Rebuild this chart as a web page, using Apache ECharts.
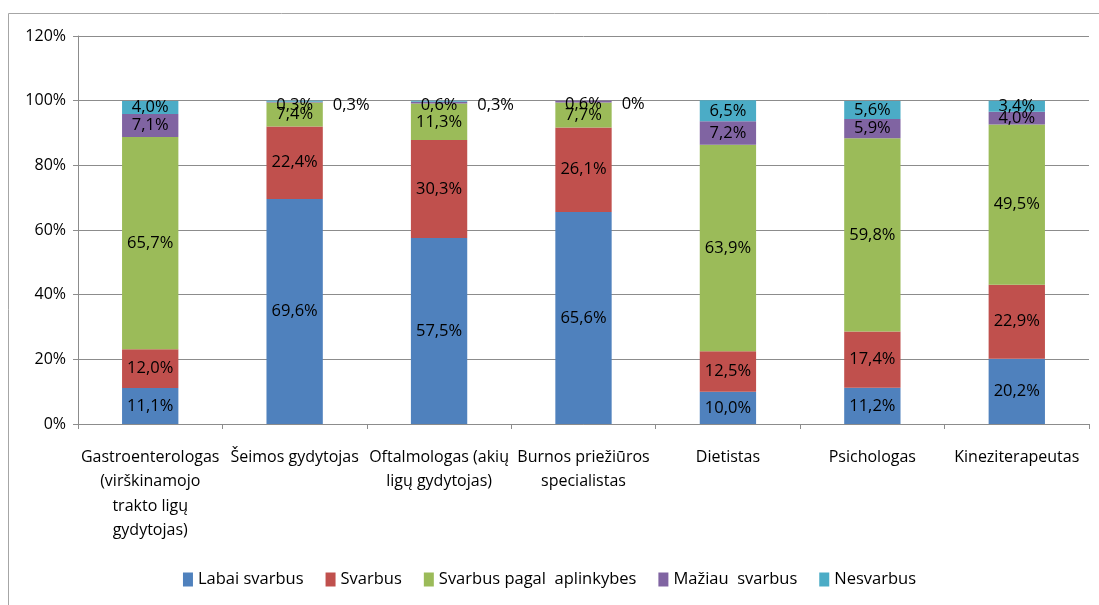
<!DOCTYPE html>
<html><head><meta charset="utf-8">
<script src="https://cdn.jsdelivr.net/npm/echarts@6/dist/echarts.min.js"></script>
<style>html,body{margin:0;padding:0;background:#fff}#c{width:1099px;height:605px}</style>
</head><body><div id="c"></div>
<script>
var categories = ["Gastroenterologas\n(virškinamojo\ntrakto ligų\ngydytojas)", "Šeimos gydytojas", "Oftalmologas (akių\nligų gydytojas)", "Burnos priežiūros\nspecialistas", "Dietistas", "Psichologas", "Kineziterapeutas"];
var seriesNames = ["Labai svarbus", "Svarbus", "Svarbus pagal  aplinkybes", "Mažiau  svarbus", "Nesvarbus"];
var labaiSvarbus = [11.1, 69.6, 57.5, 65.6, 10.0, 11.2, 20.2];
var svarbus = [12.0, 22.4, 30.3, 26.1, 12.5, 17.4, 22.9];
var pagalAplinkybes = [65.7, 7.4, 11.3, 7.7, 63.9, 59.8, 49.5];
var maziauSvarbus = [7.1, 0.3, 0.6, 0.6, 7.2, 5.9, 4.0];
var nesvarbus = [4.0, 0.3, 0.3, 0, 6.5, 5.6, 3.4];
var yTicks = [0, 20, 40, 60, 80, 100, 120];
var colors = ["#4F81BD", "#C0504D", "#9BBB59", "#8064A2", "#4BACC6"];
var outsideIdx = [1, 2, 3];

var FONT = "'Open Sans', sans-serif";
function fmt(v){ return v === 0 ? "0%" : v.toFixed(1).replace('.', ',') + "%"; }

var all = [labaiSvarbus, svarbus, pagalAplinkybes, maziauSvarbus, nesvarbus];
var series = all.map(function(arr, si){
  return {
    name: seriesNames[si], type: 'bar', stack: 'total', barWidth: '39%',
    itemStyle: {color: colors[si]},
    label: {show: true, position: 'inside', color: '#000', fontFamily: FONT, fontSize: 16.5,
      formatter: function(p){ return fmt(p.value); }},
    data: arr.map(function(v, i){
      if (si === 4 && outsideIdx.indexOf(i) >= 0) {
        return {value: v, label: {position: 'right', distance: 10, offset: [0, 4]}};
      }
      if (si === 3 && outsideIdx.indexOf(i) >= 0) {
        return {value: v, label: {offset: [0, 3]}};
      }
      return v;
    })
  };
});

var chart = echarts.init(document.getElementById('c'));
chart.setOption({
  animation: false,
  graphic: [{type: 'rect', shape: {x: 8.5, y: 13.5, width: 1200, height: 700}, style: {fill: 'none', stroke: '#a6a6a6', lineWidth: 1}, silent: true}],
  grid: {left: 78, right: 10, top: 36, bottom: 181, containLabel: false},
  legend: {bottom: 12, left: 'center', itemWidth: 10, itemHeight: 14, itemGap: 22, icon: 'rect',
    textStyle: {fontFamily: FONT, fontSize: 16.5, color: '#000'}, data: seriesNames},
  xAxis: {type: 'category', data: categories,
    axisLine: {lineStyle: {color: '#8c8c8c'}},
    axisTick: {show: true, length: 5, lineStyle: {color: '#8c8c8c'}},
    axisLabel: {interval: 0, color: '#000', fontFamily: FONT, fontSize: 16, lineHeight: 24.5, margin: 21}},
  yAxis: {type: 'value', min: 0, max: 120, interval: 20,
    axisLine: {show: true, lineStyle: {color: '#8c8c8c'}},
    axisTick: {show: true, length: 5, lineStyle: {color: '#8c8c8c'}},
    splitLine: {lineStyle: {color: '#8c8c8c'}},
    axisLabel: {color: '#000', fontFamily: FONT, fontSize: 16, margin: 12,
      formatter: function(v){ return yTicks.indexOf(v) >= 0 ? v + '%' : ''; }}},
  series: series
});
</script></body></html>
